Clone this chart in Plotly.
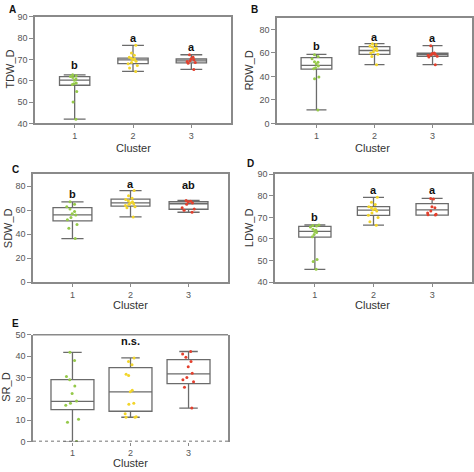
import plotly.graph_objects as go

W, H = 474, 472
clusters = [1, 2, 3]
point_colors = ['#95c94a', '#f2d52a', '#e3402e']

# ---------- Panel A: TDW_D ----------
tdw_q1 = [57.9, 68.0, 68.4]
tdw_med = [60.3, 69.8, 69.3]
tdw_q3 = [61.9, 70.6, 70.2]
tdw_lo = [42.0, 64.4, 65.3]
tdw_hi = [62.8, 76.6, 72.2]
tdw_pts = [
    [42.0, 50.0, 55.0, 58.2, 58.6, 59.0, 60.2, 60.8, 61.5, 62.0, 62.4, 62.8],
    [64.4, 66.0, 67.2, 68.0, 68.6, 69.2, 69.8, 70.2, 70.6, 71.0, 72.0, 73.0, 76.6],
    [65.3, 68.2, 68.6, 69.0, 69.4, 69.8, 70.3, 71.0, 72.2],
]
tdw_letters = ['b', 'a', 'a']
tdw_letter_y = [67.5, 80.0, 76.0]

# ---------- Panel B: RDW_D ----------
rdw_q1 = [46.2, 58.8, 57.2]
rdw_med = [49.5, 62.1, 58.8]
rdw_q3 = [56.1, 65.4, 59.9]
rdw_lo = [11.5, 50.0, 50.0]
rdw_hi = [58.8, 67.9, 66.2]
rdw_pts = [
    [11.5, 38.0, 39.5, 46.5, 47.5, 49.0, 50.5, 52.0, 52.5, 55.0, 57.0, 58.5],
    [50.0, 57.0, 59.0, 60.0, 61.0, 62.0, 63.0, 64.0, 65.0, 66.0, 67.0, 67.9],
    [50.0, 56.5, 57.2, 58.0, 58.5, 59.0, 59.5, 60.0, 66.2],
]
rdw_letters = ['b', 'a', 'a']
rdw_letter_y = [65.6, 73.4, 72.6]

# ---------- Panel C: SDW_D ----------
sdw_q1 = [51.1, 63.5, 60.8]
sdw_med = [56.1, 66.2, 65.4]
sdw_q3 = [62.1, 69.3, 67.1]
sdw_lo = [36.3, 54.4, 58.3]
sdw_hi = [67.0, 76.4, 68.2]
sdw_pts = [
    [36.3, 45.0, 48.0, 52.0, 54.0, 56.0, 57.0, 59.0, 61.0, 63.0, 65.0, 67.0],
    [54.4, 62.0, 63.0, 64.0, 65.0, 65.5, 66.0, 67.0, 68.0, 69.0, 70.0, 72.0, 76.4],
    [58.3, 60.0, 61.0, 62.0, 65.0, 66.0, 67.0, 67.5, 68.2],
]
sdw_letters = ['b', 'a', 'ab']
sdw_letter_y = [73.4, 81.6, 81.0]

# ---------- Panel D: LDW_D ----------
ldw_q1 = [60.8, 70.9, 71.1]
ldw_med = [63.5, 73.4, 73.5]
ldw_q3 = [65.8, 75.0, 76.4]
ldw_lo = [45.9, 66.4, 71.1]
ldw_hi = [66.5, 79.3, 78.8]
ldw_pts = [
    [45.9, 49.5, 50.5, 61.0, 62.0, 63.0, 63.5, 64.0, 64.5, 65.5, 66.0, 66.2, 66.5],
    [66.4, 68.0, 70.0, 71.0, 72.0, 73.0, 73.5, 74.0, 74.5, 75.0, 76.0, 77.0, 79.3],
    [71.1, 71.2, 71.5, 72.0, 73.0, 74.5, 75.0, 78.5, 78.8],
]
ldw_letters = ['b', 'a', 'a']
ldw_letter_y = [70.0, 82.9, 82.5]

# ---------- Panel E: SR_D ----------
sr_q1 = [15.0, 14.2, 27.1]
sr_med = [18.8, 23.3, 31.7]
sr_q3 = [29.0, 34.6, 38.4]
sr_lo = [0.0, 11.4, 15.7]
sr_hi = [41.8, 39.2, 42.2]
sr_pts = [
    [0.0, 9.0, 10.5, 17.0, 18.0, 19.0, 22.5, 26.0, 29.0, 30.5, 38.0, 41.8],
    [11.4, 11.4, 11.6, 13.0, 17.5, 18.0, 23.3, 24.0, 31.0, 31.5, 36.0, 37.5, 39.2],
    [15.7, 25.5, 28.0, 29.0, 30.0, 32.0, 35.0, 37.5, 39.5, 41.0, 42.2],
]
sr_letters = ['', 'n.s.', '']
sr_letter_y = [47.0, 47.0, 47.0]

panels = [
    dict(tag='A', ytitle='TDW_D', q1=tdw_q1, med=tdw_med, q3=tdw_q3, lo=tdw_lo, hi=tdw_hi, pts=tdw_pts,
         letters=tdw_letters, ly=tdw_letter_y, rect=(35, 12, 231, 121), yr=[40, 90], dt=10,
         bw=0.52, ww=0.72, tagpos=(12, 5), xt=(133, 146), yt=(10, 66)),
    dict(tag='B', ytitle='RDW_D', q1=rdw_q1, med=rdw_med, q3=rdw_q3, lo=rdw_lo, hi=rdw_hi, pts=rdw_pts,
         letters=rdw_letters, ly=rdw_letter_y, rect=(277, 13, 472, 121), yr=[0, 90], dt=20,
         bw=0.53, ww=0.65, tagpos=(254, 5), xt=(372, 146), yt=(249, 67)),
    dict(tag='C', ytitle='SDW_D', q1=sdw_q1, med=sdw_med, q3=sdw_q3, lo=sdw_lo, hi=sdw_hi, pts=sdw_pts,
         letters=sdw_letters, ly=sdw_letter_y, rect=(33, 173, 228, 283), yr=[0, 90], dt=20,
         bw=0.67, ww=0.57, tagpos=(16, 168), xt=(130, 307), yt=(8, 228)),
    dict(tag='D', ytitle='LDW_D', q1=ldw_q1, med=ldw_med, q3=ldw_q3, lo=ldw_lo, hi=ldw_hi, pts=ldw_pts,
         letters=ldw_letters, ly=ldw_letter_y, rect=(275, 173, 472, 283), yr=[40, 90], dt=10,
         bw=0.55, ww=0.65, tagpos=(250, 162), xt=(372, 306), yt=(249, 228)),
    dict(tag='E', ytitle='SR_D', q1=sr_q1, med=sr_med, q3=sr_q3, lo=sr_lo, hi=sr_hi, pts=sr_pts,
         letters=sr_letters, ly=sr_letter_y, rect=(33, 337, 228, 446), yr=[0, 50], dt=10,
         bw=0.74, ww=0.43, tagpos=(15, 325), xt=(130, 468), yt=(6, 391)),
]

FONT = 'Liberation Sans, Arial, sans-serif'
AX_COLOR = '#8a8a8a'
BOX_COLOR = '#6b6b6b'

fig = go.Figure()
layout = dict(
    width=W, height=H, margin=dict(l=0, r=0, t=0, b=0),
    paper_bgcolor='white', plot_bgcolor='white', showlegend=False,
    boxmode='overlay', font=dict(family=FONT, color='#333'),
)
annotations = []
shapes = []


def note(x, y, text, size, color, xref='paper', yref='paper', angle=0):
    if xref == 'paper':
        x, y = x / W, 1 - y / H
    return dict(x=x, y=y, xref=xref, yref=yref, text=text, showarrow=False,
                xanchor='center', yanchor='middle', textangle=angle,
                font=dict(size=size, color=color, family=FONT))


for i, p in enumerate(panels):
    n = i + 1
    xa = 'x' if n == 1 else f'x{n}'
    ya = 'y' if n == 1 else f'y{n}'
    xk = 'xaxis' if n == 1 else f'xaxis{n}'
    yk = 'yaxis' if n == 1 else f'yaxis{n}'
    x0, y0, x1, y1 = p['rect']
    is_e = p['tag'] == 'E'
    layout[xk] = dict(
        domain=[x0 / W, x1 / W], anchor=ya, range=[0.32, 3.68],
        tickvals=clusters, ticktext=[str(c) for c in clusters],
        ticks='outside', ticklen=3, tickcolor=AX_COLOR, tickwidth=1,
        showline=not is_e, mirror=True, linecolor=AX_COLOR, linewidth=1.5,
        showgrid=False, zeroline=False,
        tickfont=dict(size=9, color='#555', family=FONT),
    )
    layout[yk] = dict(
        domain=[1 - y1 / H, 1 - y0 / H], anchor=xa, range=p['yr'], dtick=p['dt'], tick0=0,
        ticks='outside', ticklen=4, tickcolor=AX_COLOR, tickwidth=1,
        showline=True, mirror=True, linecolor=AX_COLOR, linewidth=1.5,
        showgrid=False, zeroline=False,
        tickfont=dict(size=9, color='#555', family=FONT),
    )
    if is_e:
        shapes.append(dict(type='line', xref=f'{xa} domain', yref=f'{ya} domain',
                           x0=0, x1=1, y0=1, y1=1, line=dict(color=AX_COLOR, width=1.5)))
        shapes.append(dict(type='line', xref=f'{xa} domain', yref=ya,
                           x0=0, x1=1, y0=0, y1=0, line=dict(color='#444', width=1.5, dash='dot')))

    fig.add_trace(go.Box(
        x=clusters, q1=p['q1'], median=p['med'], q3=p['q3'],
        lowerfence=p['lo'], upperfence=p['hi'],
        fillcolor='white', line=dict(color=BOX_COLOR, width=1.3),
        width=p['bw'], whiskerwidth=p['ww'], boxpoints=False,
        xaxis=xa, yaxis=ya, hoverinfo='skip',
    ))
    for c, vals, col in zip(clusters, p['pts'], point_colors):
        fig.add_trace(go.Box(
            x=[c] * len(vals), y=vals, boxpoints='all', jitter=0.4, pointpos=0,
            fillcolor='rgba(0,0,0,0)', line=dict(color='rgba(0,0,0,0)', width=0),
            marker=dict(color=col, size=3), width=p['bw'],
            xaxis=xa, yaxis=ya, hoverinfo='skip',
        ))
    for c, lab, ly in zip(clusters, p['letters'], p['ly']):
        if lab:
            annotations.append(note(c, ly, f'<b>{lab}</b>', 11, '#111', xref=xa, yref=ya))
    annotations.append(note(p['tagpos'][0], p['tagpos'][1], f"<b>{p['tag']}</b>", 10, '#111'))
    annotations.append(note(p['xt'][0], p['xt'][1], 'Cluster', 11, '#333'))
    annotations.append(note(p['yt'][0], p['yt'][1], p['ytitle'], 11, '#333', angle=-90))

layout['annotations'] = annotations
layout['shapes'] = shapes
fig.update_layout(**layout)
fig.write_html('out.html', config={'displayModeBar': False},
               post_script="document.body.style.margin='0px';")
